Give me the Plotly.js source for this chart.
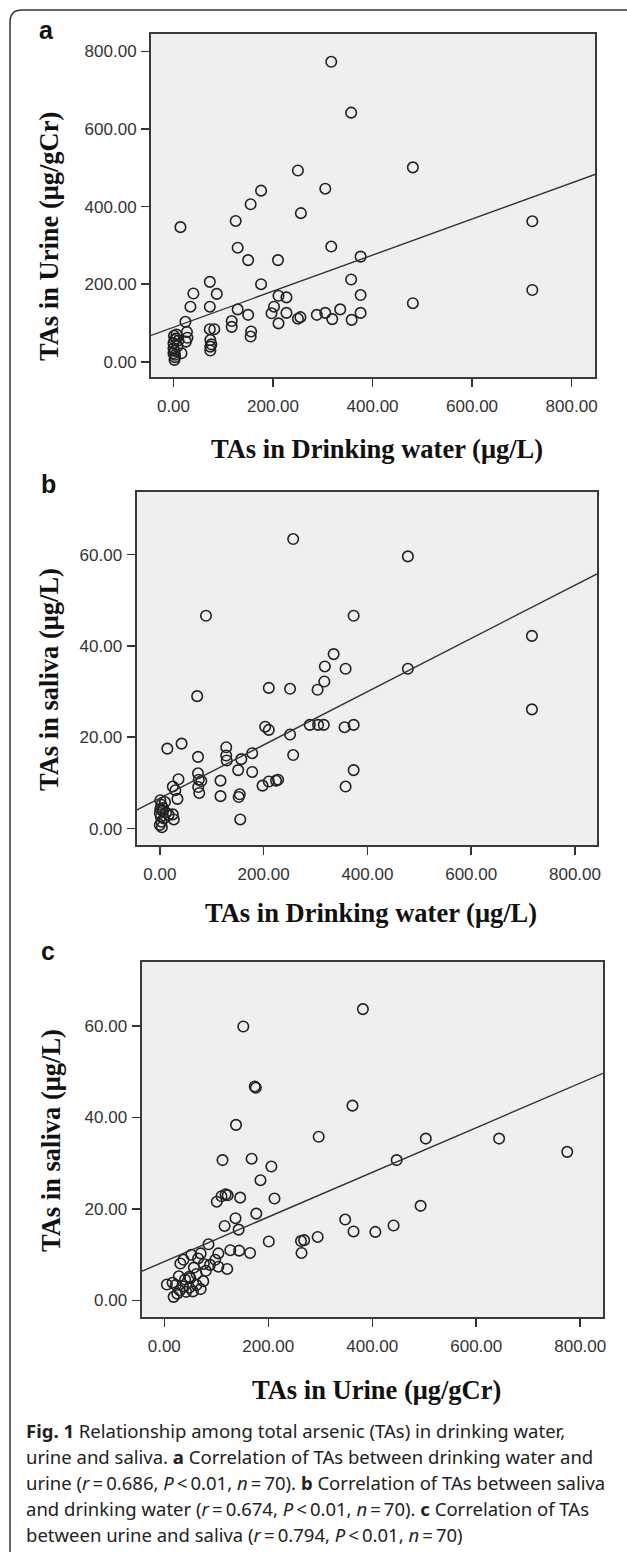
<!DOCTYPE html>
<html>
<head>
<meta charset="utf-8">
<script src="https://cdn.plot.ly/plotly-3.0.1.min.js"></script>
<style>html,body{margin:0;padding:0;background:#fff;}#chart{width:627px;height:1552px;}</style>
</head>
<body>
<div id="chart"></div>
<script>
// ---------- DATA ----------
// Panel a: TAs in drinking water (x) vs TAs in urine (y)
const aWaterX = [317,357,481,250,305,176,155,256,14,125,721,317,129,376,150,210,73,176,357,40,87,376,211,227,34,73,129,202,197,227,335,376,150,288,305,319,255,250,211,358,117,117,24,27,73,82,156,155,1,2,0,25,74,74,74,0,16,2,0,3,721,481,5,8,2,10,3,28,76,6];
const aUrineY = [773,642,501,493,446,441,406,383,347,363,362,297,294,271,262,262,206,200,212,176,175,172,170,166,142,142,135,142,125,126,135,126,121,121,126,110,115,111,99,108,105,90,103,77,84,84,78,65,67,56,48,52,56,39,29,22,22,5,34,12,185,151,60,40,28,55,18,62,45,70];
// Panel b: TAs in drinking water (x) vs TAs in saliva (y)
const bWaterX = [257,478,89,373.5,717,717,335,318,358,478,317,304,210,251,72,203,210,251,289,305,316,356,373.5,373.5,358,257,14.5,42,73.6,73.6,75,74,76,80,128,128,129,157,151,178,178,117,117,152,154,155,198,210,224,228,36,25,34,25,27,17,1,3,1,5,0,2,0,6,3,8,10,30,4,12];
const bSalivaY = [63.4,59.6,46.6,46.6,42.2,26.1,38.2,35.5,35,35,32.2,30.4,30.8,30.6,29,22.3,21.6,20.6,22.7,22.7,22.7,22.2,22.7,12.8,9.2,16.1,17.5,18.6,15.7,12.1,10.7,9.1,7.8,10.4,17.8,16,14.9,15.2,12.8,16.5,12.4,10.5,7.1,6.9,7.5,2.0,9.4,10.3,10.5,10.7,10.8,9.2,6.5,3.1,2.0,3.0,6.2,5.2,4.3,3.9,3.4,2.6,0.8,4.5,1.5,2.2,5.8,8.4,0.3,3.5];
// Panel c: TAs in urine (x) vs TAs in saliva (y)
const cUrineX = [382,152,174,176,362,138,297,503,644,775,447,112,168,206,185,101,110,118,122,146,212,493,177,137,116,143,348,364,406,441,201,263,269,295,264,85,127,144,165,104,52,37,31,57,62,48,76,80,98,104,121,5,16,22,18,30,36,42,48,55,62,40,50,28,70,70,65,88,25,75];
const cSalivaY = [63.7,59.9,46.8,46.5,42.6,38.4,35.8,35.4,35.4,32.5,30.7,30.7,31,29.3,26.3,21.6,22.8,23.2,23,22.5,22.3,20.7,19,18,16.3,15.5,17.7,15.1,15,16.4,12.9,13,13.2,13.9,10.4,12.3,11,10.9,10.4,10.3,10,8.9,8.1,7.2,5.8,5.2,8,6.5,8.9,7.4,6.9,3.5,3.9,3.4,0.8,2.2,3.1,1.9,2.8,2.0,3.4,4.6,4.9,5.3,2.5,10.3,9.2,7.8,1.5,4.2];
// Fit lines: [intercept, slope]
const fitA = [88.9, 0.465];
const fitB = [6.65, 0.0583];
const fitC = [8.5, 0.0488];
// Ticks
const xTickVals = [0,200,400,600,800];
const xTickText = ['0.00','200.00','400.00','600.00','800.00'];
const aYTickVals = [0,200,400,600,800];
const aYTickText = ['0.00','200.00','400.00','600.00','800.00'];
const bcYTickVals = [0,20,40,60];
const bcYTickText = ['0.00','20.00','40.00','60.00'];
// Texts
const xTitles = ['TAs in Drinking water (μg/L)','TAs in Drinking water (μg/L)','TAs in Urine (μg/gCr)'];
const yTitles = ['TAs in Urine (μg/gCr)','TAs in saliva (μg/L)','TAs in saliva (μg/L)'];
const panelLetters = ['a','b','c'];
const captionLines = [
  '<b>Fig. 1</b> Relationship among total arsenic (TAs) in drinking water,',
  'urine and saliva. <b>a</b> Correlation of TAs between drinking water and',
  'urine (<i>r</i>\u2009=\u20090.686, <i>P</i>\u2009&lt;\u20090.01, <i>n</i>\u2009=\u200970). <b>b</b> Correlation of TAs between saliva',
  'and drinking water (<i>r</i>\u2009=\u20090.674, <i>P</i>\u2009&lt;\u20090.01, <i>n</i>\u2009=\u200970). <b>c</b> Correlation of TAs',
  'between urine and saliva (<i>r</i>\u2009=\u20090.794, <i>P</i>\u2009&lt;\u20090.01, <i>n</i>\u2009=\u200970)'
];

// ---------- LAYOUT GEOMETRY ----------
const W = 627, H = 1552;
const fx = x => x / W, fy = y => 1 - y / H;
const boxes = [
  {l:151, r:595, t:34, b:377, xr:[-45.2,847], yr:[-39.2,844.7]},
  {l:136.5, r:597, t:492, b:845, xr:[-44.9,842.4], yr:[-3.6,73.7]},
  {l:141.5, r:603, t:962, b:1317, xr:[-43.8,843.8], yr:[-3.6,74.0]}
];
const xTitleY = [449, 913, 1390];
const yTitleCY = [237, 680, 1140];
const yTitleX = [49, 49, 51];
const letterPos = [[46,30],[48,484],[48,951]];

const series = [[aWaterX,aUrineY,fitA],[bWaterX,bSalivaY,fitB],[cUrineX,cSalivaY,fitC]];
const traces = [];
const layout = {
  width: W, height: H,
  margin: {l:0,r:0,t:0,b:0},
  paper_bgcolor: '#ffffff',
  plot_bgcolor: '#efefef',
  showlegend: false,
  annotations: [],
  shapes: []
};
const tickFont = {family:'Liberation Sans, Arial, sans-serif', size:17, color:'#333'};
const titleFont = {family:'Liberation Serif, Times New Roman, serif', size:26.5, color:'#111'};

series.forEach((s, i) => {
  const k = i === 0 ? '' : String(i+1);
  const bx = boxes[i];
  traces.push({
    type:'scatter', mode:'markers', x:s[0], y:s[1],
    xaxis:'x'+k, yaxis:'y'+k,
    marker:{symbol:'circle-open', size:10.5, color:'#222', line:{width:1.6, color:'#222'}},
    hoverinfo:'x+y'
  });
  const x0 = bx.xr[0], x1 = bx.xr[1];
  traces.push({
    type:'scatter', mode:'lines',
    x:[x0, x1], y:[s[2][0] + s[2][1]*x0, s[2][0] + s[2][1]*x1],
    xaxis:'x'+k, yaxis:'y'+k,
    line:{color:'#333', width:1.4}, hoverinfo:'skip'
  });
  const common = {
    showgrid:false, zeroline:false, showline:true, mirror:true,
    linecolor:'#3a3a3a', linewidth:2,
    ticks:'outside', ticklen:8, tickwidth:1.5, tickcolor:'#333',
    tickfont:tickFont, fixedrange:true
  };
  layout['xaxis'+k] = Object.assign({}, common, {
    domain:[fx(bx.l), fx(bx.r)], range:bx.xr, anchor:'y'+k,
    tickmode:'array', tickvals:xTickVals, ticktext:xTickText, ticklabelstandoff:5
  });
  layout['yaxis'+k] = Object.assign({}, common, {
    domain:[fy(bx.b), fy(bx.t)], range:bx.yr, anchor:'x'+k,
    tickmode:'array',
    tickvals: i === 0 ? aYTickVals : bcYTickVals,
    ticktext: i === 0 ? aYTickText : bcYTickText,
    ticklabelstandoff:1
  });
  layout.annotations.push({
    xref:'paper', yref:'paper', x:fx((bx.l+bx.r)/2 + 4), y:fy(xTitleY[i]),
    xanchor:'center', yanchor:'middle', showarrow:false,
    text:'<b>'+xTitles[i]+'</b>', font:titleFont
  });
  layout.annotations.push({
    xref:'paper', yref:'paper', x:fx(yTitleX[i]), y:fy(yTitleCY[i]),
    xanchor:'center', yanchor:'middle', showarrow:false, textangle:-90,
    text:'<b>'+yTitles[i]+'</b>', font:titleFont
  });
  layout.annotations.push({
    xref:'paper', yref:'paper', x:fx(letterPos[i][0]), y:fy(letterPos[i][1]),
    xanchor:'center', yanchor:'middle', showarrow:false,
    text:'<b>'+panelLetters[i]+'</b>',
    font:{family:'Liberation Sans, Arial, sans-serif', size:25, color:'#111'}
  });
});

const capY = [1430, 1456, 1482, 1508, 1534];
captionLines.forEach((t, j) => {
  layout.annotations.push({
    xref:'paper', yref:'paper', x:fx(24), y:fy(capY[j]),
    xanchor:'left', yanchor:'middle', align:'left', showarrow:false,
    text:t, font:{family:'Noto Sans, Open Sans, sans-serif', size:18.5, color:'#222'}
  });
});

// outer figure frame (top and left edges with rounded corner)
layout.shapes.push({
  type:'path', xref:'paper', yref:'paper',
  path:'M '+fx(627)+','+fy(10)+' L '+fx(22)+','+fy(10)+' Q '+fx(10)+','+fy(10)+' '+fx(10)+','+fy(22)+' L '+fx(10)+','+fy(1552),
  line:{color:'#333', width:1.5}
});

Plotly.newPlot('chart', traces, layout, {displayModeBar:false, staticPlot:true});
</script>
</body>
</html>
